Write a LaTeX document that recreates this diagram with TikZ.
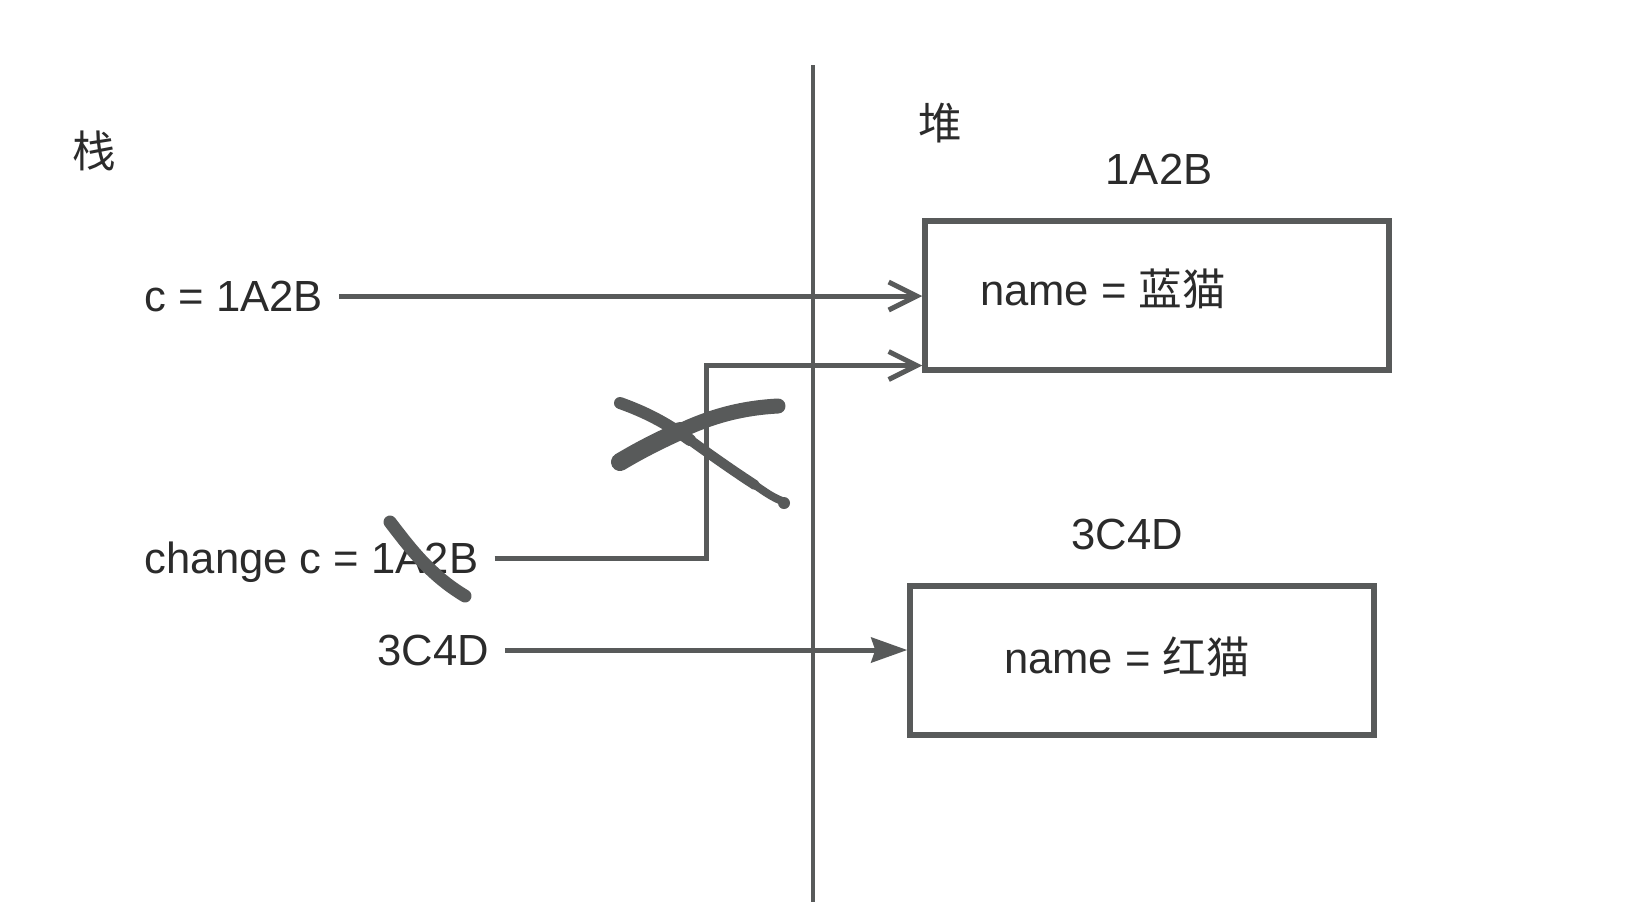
\documentclass[tikz,border=0pt]{standalone}
\usepackage{fontspec}
\setmainfont{Liberation Sans}
\newfontfamily\cjk{Noto Sans CJK SC}
\usetikzlibrary{arrows.meta,calc}
\definecolor{ink}{HTML}{585A5A}
\definecolor{txt}{HTML}{2B2B2B}
\begin{document}
\begin{tikzpicture}[x=0.5pt,y=-0.5pt,
  lbl/.style={font=\fontsize{21.8}{24}\selectfont, text=txt, inner sep=0pt, text height=15.6pt, text depth=0pt},
  stack/.style={lbl, inner xsep=8pt, anchor=west},
  box/.style={draw=ink, line width=2.75pt, minimum width=232pt, minimum height=74.5pt, inner sep=0pt},
  ptr/.style={draw=ink, line width=2.5pt},
  barb/.style={-{Straight Barb[length=14pt,width=14pt]}},
  solidtip/.style={-{Stealth[length=18pt,width=12.5pt,inset=2pt]}},
  divider/.style={draw=ink, line width=2pt},
  scrib/.style={draw=ink, line cap=round, line join=round}]
\useasboundingbox (0,0) rectangle (1642,902);
\fill[white] (0,0) rectangle (1642,902);

% divider
\coordinate (top) at (812.6,65);
\coordinate (bot) at (812.6,902);
\draw[divider] (top) -- (bot);

% headings
\node[lbl] (zhan) at (94,152) {\cjk 栈};
\node[lbl] (dui) at (940,124) {\cjk 堆};

% heap boxes
\node[box] (b1) at (1157,295.5) {};
\node[box] (b2) at (1142,660.5) {};
\node[lbl] (a1) at (1159,168.6) {1A2B};
\node[lbl] (a2) at (1127,534) {3C4D};
\node[lbl] (n1) at (1103,290) {name = {\cjk 蓝猫}};
\node[lbl] (n2) at (1127,657.6) {name = {\cjk 红猫}};

% stack entries
\node[stack] (c1) at (128.5,296) {c = 1A2B};
\node[stack] (chg) at (128.5,558) {change c = 1A2B};
\node[stack] (r) at (361,650) {3C4D};

% pointers
\draw[ptr, barb] (c1.east) -- (c1.east -| b1.west);
\coordinate (k) at (706,365.5);
\draw[ptr, barb] (chg.east) -- (chg.east -| k) -- (k) -- (k -| b1.west);
\draw[ptr, solidtip] (r.east) -- (r.east -| b2.west);

% scribbles
\draw[scrib, line width=9pt] (620,462) .. controls (640,450) and (660,440) .. (680,431);
\draw[scrib, line width=7.5pt] (680,431) .. controls (710,417) and (740,408) .. (778,406);
\draw[scrib, line width=6pt] (620,403) .. controls (645,412) and (665,422) .. (690,440);
\draw[scrib, line width=5pt] (690,440) .. controls (715,458) and (735,472) .. (755,485);
\draw[scrib, line width=4pt] (755,485) .. controls (765,492) and (772,497) .. (782,501);
\fill[ink] (784,503) circle (3pt);
\draw[scrib, line width=6.5pt] (390,522) .. controls (410,548) and (430,575) .. (465,596);
\end{tikzpicture}
\end{document}
